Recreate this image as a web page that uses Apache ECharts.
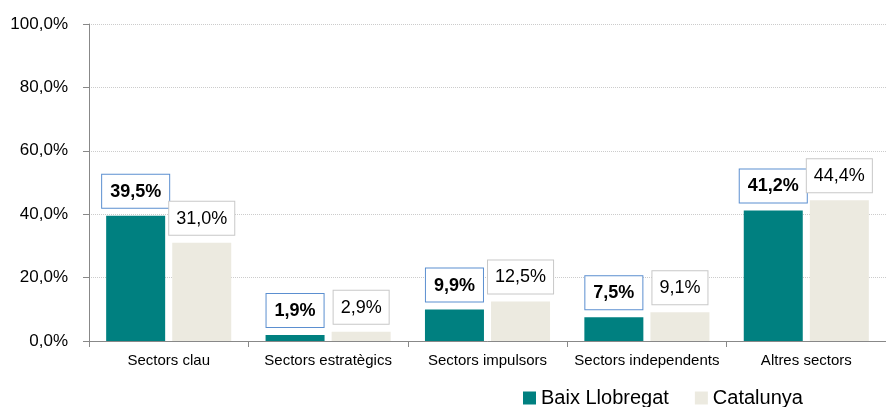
<!DOCTYPE html>
<html>
<head>
<meta charset="utf-8">
<script src="https://cdn.jsdelivr.net/npm/echarts@6/dist/echarts.min.js"></script>
<style>
  html, body { margin: 0; padding: 0; background: #fff; }
  #chart { width: 886px; height: 407px; }
</style>
</head>
<body>
<div id="chart"></div>
<script>
const categories = ['Sectors clau', 'Sectors estratègics', 'Sectors impulsors', 'Sectors independents', 'Altres sectors'];
const baixLlobregat = [39.5, 1.9, 9.9, 7.5, 41.2];
const catalunya = [31.0, 2.9, 12.5, 9.1, 44.4];
const yTicks = [0, 20, 40, 60, 80, 100];

const fmt = v => v.toFixed(1).replace('.', ',') + '%';
const font = '"Liberation Sans", Arial, sans-serif';

const chart = echarts.init(document.getElementById('chart'));

const option = {
  animation: false,
  textStyle: { fontFamily: font },
  grid: { left: 89, right: 0, top: 24, bottom: 66 },
  legend: {
    bottom: -6,
    left: 518,
    itemWidth: 13,
    itemHeight: 13,
    itemGap: 26,
    icon: 'rect',
    selectedMode: false,
    textStyle: { fontFamily: font, fontSize: 20, color: '#000' },
    data: ['Baix Llobregat', 'Catalunya']
  },
  xAxis: {
    type: 'category',
    data: categories,
    axisLine: { lineStyle: { color: '#888' } },
    axisTick: { show: true, length: 6, lineStyle: { color: '#888' } },
    axisLabel: { interval: 0, fontFamily: font, fontSize: 15, color: '#000', margin: 12 }
  },
  yAxis: {
    type: 'value',
    min: yTicks[0],
    max: yTicks[yTicks.length - 1],
    interval: 20,
    axisLine: { show: true, lineStyle: { color: '#888' } },
    axisTick: { show: true, length: 6, lineStyle: { color: '#888' } },
    axisLabel: { fontFamily: font, fontSize: 17, color: '#000', margin: 21, formatter: v => fmt(v) },
    splitLine: { lineStyle: { color: '#ccc', type: 'dotted' } }
  },
  series: [
    {
      name: 'Baix Llobregat',
      type: 'bar',
      data: baixLlobregat,
      barWidth: 59,
      barGap: '12%',
      itemStyle: { color: '#008080' },
      label: {
        show: true,
        position: 'top',
        distance: 8,
        formatter: p => fmt(p.value),
        fontFamily: font,
        fontSize: 18,
        fontWeight: 'bold',
        color: '#000',
        backgroundColor: '#fff',
        borderColor: '#5b8fd0',
        borderWidth: 1,
        padding: [8, 8, 7, 8]
      }
    },
    {
      name: 'Catalunya',
      type: 'bar',
      data: catalunya,
      barWidth: 59,
      itemStyle: { color: '#ECEAE0' },
      label: {
        show: true,
        position: 'top',
        distance: 8,
        formatter: p => fmt(p.value),
        fontFamily: font,
        fontSize: 18,
        color: '#000',
        backgroundColor: '#fff',
        borderColor: '#c8c8c8',
        borderWidth: 1,
        padding: [8, 7, 7, 7]
      }
    }
  ]
};

chart.setOption(option);
</script>
</body>
</html>
